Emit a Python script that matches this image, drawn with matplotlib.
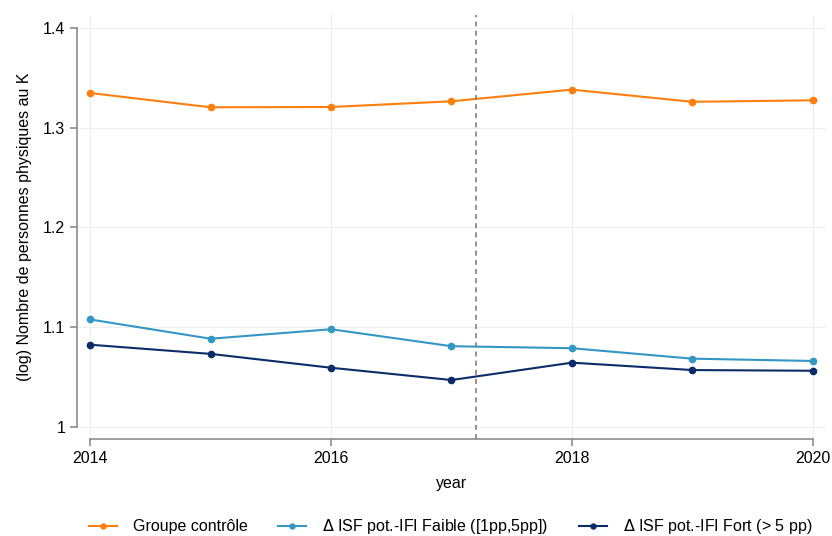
import numpy as np
from matplotlib import pyplot as plt

plt.rcParams['font.family'] = ['Liberation Sans', 'DejaVu Sans']

years = [2014, 2015, 2016, 2017, 2018, 2019, 2020]
controle = [1.3348, 1.3205, 1.3208, 1.3265, 1.3382, 1.3260, 1.3275]
faible = [1.1078, 1.0885, 1.0980, 1.0810, 1.0790, 1.0685, 1.0662]
fort = [1.0825, 1.0733, 1.0594, 1.0471, 1.0645, 1.0571, 1.0564]

labels = ['Groupe contrôle',
          '$\\Delta$ ISF pot.-IFI Faible ([1pp,5pp])',
          '$\\Delta$ ISF pot.-IFI Fort (> 5 pp)']
colors = ['#ff7f0e', '#3397c4', '#0c2c69']
reform = 2017.2

fig = plt.figure(figsize=(8.32, 5.36), dpi=100)
ax = fig.add_axes([0.0925, 0.181, 0.9003, 0.791])

for ys, lab, c in zip([controle, faible, fort], labels, colors):
    ax.plot(years, ys, color=c, lw=1.5, marker='o', ms=4.5, label=lab)

ax.axvline(reform, color='#7f7f7f', ls=(0, (3, 2.5)), lw=1.2)

ax.set_xlim(2013.89, 2020.11)
ax.set_ylim(0.988, 1.413)
ax.set_xticks([2014, 2016, 2018, 2020])
ax.set_yticks([1.0, 1.1, 1.2, 1.3, 1.4])
ax.set_yticklabels(['1', '1.1', '1.2', '1.3', '1.4'])
ax.grid(color='#eeeeee', lw=0.8)
ax.set_axisbelow(True)

for s in ['top', 'right']:
    ax.spines[s].set_visible(False)
ax.spines['left'].set_bounds(1.0, 1.4)
ax.spines['bottom'].set_bounds(2014, 2020)
for s in ['left', 'bottom']:
    ax.spines[s].set_color('#8c8c8c')
    ax.spines[s].set_linewidth(1.2)
ax.tick_params(colors='#8c8c8c', labelcolor='black', labelsize=11.5,
               length=5, width=1.2)

ax.set_xlabel('year', fontsize=11.5, labelpad=7)
ax.set_ylabel('(log) Nombre de personnes physiques au K', fontsize=11.5, labelpad=8)

fig.legend(loc='center', bbox_to_anchor=(0.5415, 0.0168), ncol=3, frameon=False,
           fontsize=11.5, handlelength=1.75, handletextpad=1.0,
           columnspacing=1.9, markerscale=0.8, borderpad=0, borderaxespad=0)

fig.savefig('out.png', dpi=100)
